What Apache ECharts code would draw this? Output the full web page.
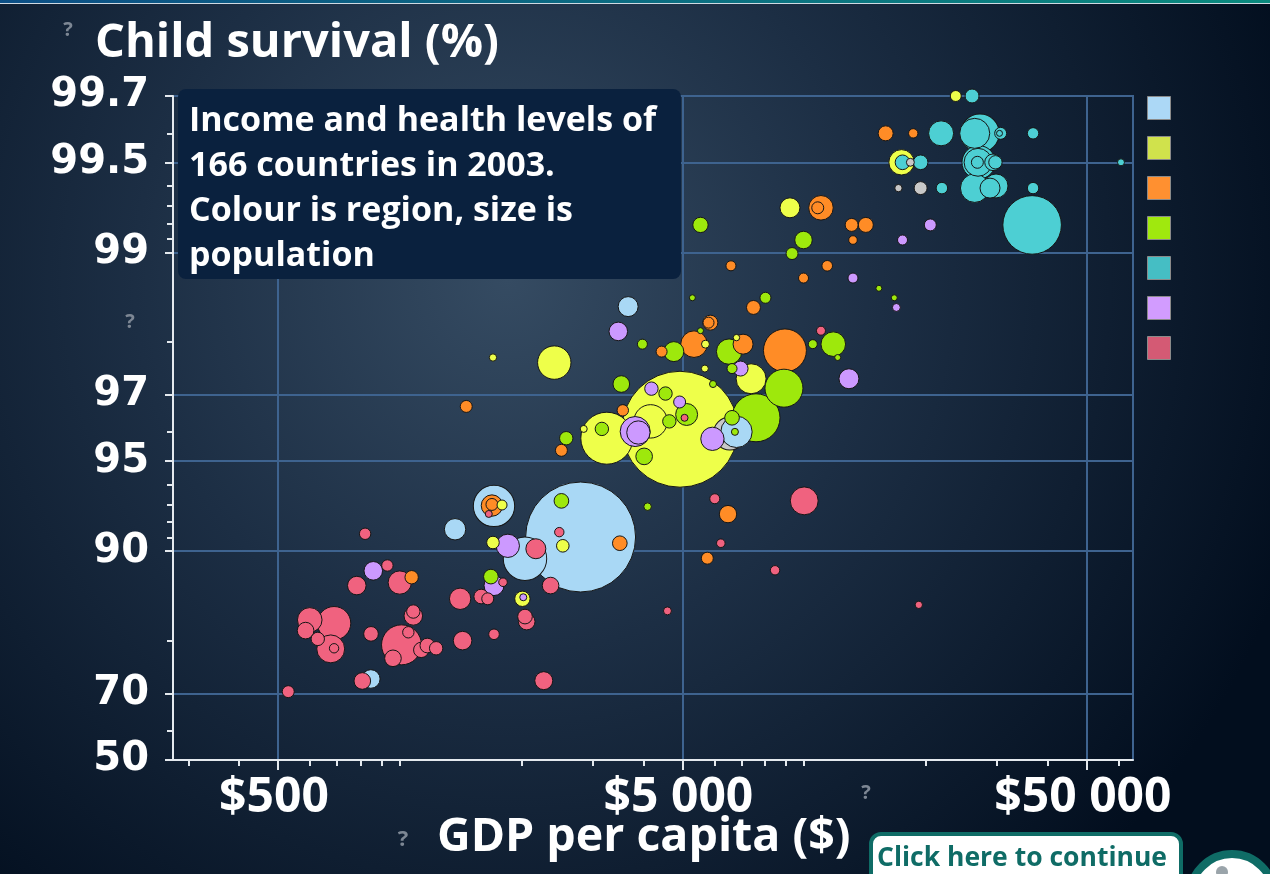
<!DOCTYPE html>
<html>
<head>
<meta charset="utf-8">
<script src="https://cdn.jsdelivr.net/npm/echarts@6/dist/echarts.min.js"></script>
<style>
html,body{margin:0;padding:0;background:#06121f;}
#chart{width:1270px;height:874px;}
</style>
</head>
<body>
<div id="chart"></div>
<script>
// ---------------- DATA ----------------
const regionNames = ['Region A','Region B','Region C','Region D','Region E','Region F','Region G'];

// GDP per capita ($)
const gdp = [
23700,26000,15900,18600,21800,27200,26400,30600,30400,36800,
17400,17500,18300,19400,27000,26900,26800,29300,29700,60700,
17100,19400,21900,26400,29800,28800,36800,36600,9220,11000,
10800,5540,13100,14200,20500,9960,13200,17500,9330,6590,
11400,9960,13200,15300,5290,8020,16700,7490,16900,5860,
5800,11000,5540,5340,4760,4440,5700,6520,7060,6800,
8960,10500,11800,12100,5680,6630,6960,7390,8910,12900,
5950,4540,4920,5120,5060,4640,7600,6550,6800,6630,
6740,5930,3470,3980,3530,4190,3560,4170,3250,2850,
3160,3820,3890,4020,4930,3670,1700,2410,1460,2580,
2510,1710,1690,1690,1790,1660,2510,4100,1370,821,
2800,2480,2530,3500,1700,1850,2040,2170,932,860,
1070,1000,783,1680,1710,1800,2360,1410,1590,1650,
2010,2020,1080,1080,2040,2060,599,688,585,849,
627,675,688,1010,1050,962,1130,1170,1230,1430,
1710,2270,848,808,530,6010,6480,10000,6220,5760,
8470,4590,19200
];

// Child survival (%)
const survival = [
99.70,99.70,99.60,99.60,99.60,99.60,99.60,99.60,99.60,99.60,
99.50,99.50,99.50,99.50,99.50,99.50,99.50,99.50,99.50,99.50,
99.39,99.39,99.39,99.39,99.40,99.39,99.39,99.19,99.29,99.29,
99.29,99.19,99.19,99.19,99.19,99.09,99.09,99.09,98.99,98.89,
98.89,98.78,98.78,98.68,98.58,98.58,98.58,98.47,98.47,98.28,
98.28,98.17,98.17,97.97,97.85,97.85,97.97,97.85,97.97,98.07,
97.87,97.97,97.97,97.75,97.55,97.55,97.55,97.35,97.15,97.35,
97.24,97.03,96.83,96.51,96.42,96.32,96.42,95.96,96.01,96.42,
96.01,95.79,98.16,97.97,97.24,97.14,96.62,96.32,95.81,96.10,
96.10,96.02,95.99,95.18,96.09,98.48,97.75,97.66,96.72,95.81,
95.40,92.94,92.96,93.02,92.99,92.49,93.21,92.90,91.55,91.25,
91.03,91.36,90.40,90.59,90.64,90.40,89.39,90.18,88.83,88.36,
87.77,87.26,86.96,87.83,86.96,87.29,86.96,85.56,85.81,85.56,
85.56,85.73,83.53,84.07,83.44,82.79,83.01,82.57,81.55,81.08,
80.33,78.76,78.86,79.41,81.31,77.16,78.59,79.30,78.86,80.07,
81.02,72.87,73.22,72.80,70.47,93.32,92.48,93.21,90.59,89.44,
88.41,84.15,84.87
];

// Population (millions)
const population = [
11.8,19,22,8.6,61,145,88,14,3.5,12.7,
63,21,6.2,21,109,76,14,27,17.5,4.8,
5.3,16.5,13,80,56,39,12.7,335,39,59,
14,23,16.5,22,14,30,7.2,9.8,14,9.8,
11,9.8,9.8,3.5,3.5,11.8,3.5,19,6.2,22,
11.8,7.9,3.5,69,39,11.8,6.2,63,39,4,
180,7.9,59,3.5,4.8,9.8,22,88,141,39,
4.8,17.5,14,47,4.8,17.5,225,106,96,21,
4.8,53,33.7,9.8,27,17.5,12.7,109,264,4.8,
17.5,88,53,27,1312,39,5.3,109,14,17.5,
14,167,44.6,14,9.8,4.8,21,5.6,44.6,12.7,
1180,8.6,15.5,21,15.5,53,184,39,12.7,33.7,
17.5,53,33.7,21,39,7.2,27,44.6,21,14,
23,4.8,33.7,17.5,21,27,59,109,27,21,
17.5,76,8.6,156,12.7,27,23,21,17.5,33.7,
11,31.6,33.7,27,14,9.8,29.5,76,7.2,14,
8.6,6.2,5.3
];

// Region index (0-6 = legend regions, 7 = unclassified)
const region = [
1,4,2,2,4,4,4,4,4,4,
1,4,7,4,4,4,4,4,4,4,
7,7,4,4,4,4,4,4,1,2,
2,3,2,2,5,3,2,5,3,2,
2,2,5,3,3,3,3,2,5,2,
2,6,3,2,3,2,1,3,2,1,
2,3,3,3,1,3,5,1,3,5,
3,3,5,3,6,3,3,7,0,3,
3,5,5,3,3,5,2,1,1,1,
3,5,5,3,1,0,1,1,2,3,
2,0,2,2,1,6,3,3,0,6,
0,6,1,2,1,5,0,6,6,5,
2,6,6,3,5,6,6,6,6,6,
1,5,6,6,6,6,6,6,6,6,
6,6,6,6,6,6,6,6,6,6,
6,6,0,6,6,6,2,6,6,2,
6,6,6
];

// Axis range and ticks
const gdpRange = [275, 65000];
const survivalRange = [50, 99.7];
const xMajorTicks = [500, 5000, 50000];
const xMajorLabels = ['$500', '$5 000', '$50 000'];
const xMinorTicks = [300,400,600,700,800,900,1000,2000,3000,4000,6000,7000,8000,9000,10000,20000,30000,40000,60000];
const yMajorTicks = [50, 70, 90, 95, 97, 99, 99.5, 99.7];
const yMajorLabels = ['50', '70', '90', '95', '97', '99', '99.5', '99.7'];
const yMinorTicks = [60, 80, 91, 92, 93, 94, 96, 98, 99.1, 99.2, 99.3, 99.4, 99.6];

// ---------------- STYLE ----------------
const bubbleColors = ['#a9d8f5','#eeff4a','#ff8c26','#9ee80c','#4dcfd3','#cc99ff','#f0627f','#c8c8c8'];
const legendColors = ['#acd8f6','#d0e24c','#ff9030','#a0e80e','#45bec4','#d29cff','#d45a74'];
const gridColor = '#3e638f';
const axisColor = '#e4e9ee';

// ---------------- TRANSFORMS ----------------
const toX = g => Math.log10(g);
const toY = s => -Math.log10(100 - s);
const near = (a, b) => Math.abs(a - b) < 1e-6;
const xLabelFor = v => { const i = xMajorTicks.findIndex(t => near(toX(t), v)); return i >= 0 ? xMajorLabels[i] : ''; };
const yLabelFor = v => { const i = yMajorTicks.findIndex(t => near(toY(t), v)); return i >= 0 ? yMajorLabels[i] : ''; };

const points = gdp.map((g, i) => ({ value: [toX(g), toY(survival[i]), population[i], region[i]] }))
  .sort((a, b) => b.value[2] - a.value[2]);

const xBase = { type: 'value', min: toX(gdpRange[0]), max: toX(gdpRange[1]), position: 'bottom' };
const yBase = { type: 'value', min: toY(survivalRange[0]), max: toY(survivalRange[1]), position: 'left' };

const chart = echarts.init(document.getElementById('chart'), null, { renderer: 'canvas' });

const option = {
  animation: false,
  backgroundColor: {
    type: 'radial', x: 0.40, y: 0.32, r: 0.95,
    colorStops: [
      { offset: 0, color: '#354b62' },
      { offset: 0.45, color: '#1c2e44' },
      { offset: 1, color: '#020e1e' }
    ]
  },
  grid: { left: 173, right: 137, top: 96, bottom: 114, show: true, borderColor: gridColor, borderWidth: 2, backgroundColor: 'transparent' },
  xAxis: [
    Object.assign({}, xBase, {
      axisLine: { show: true, onZero: false, lineStyle: { color: axisColor, width: 2 } },
      axisTick: { show: true, customValues: xMinorTicks.map(toX), length: 6, lineStyle: { color: axisColor, width: 2 } },
      axisLabel: { show: false },
      splitLine: { show: false }
    }),
    Object.assign({}, xBase, {
      axisLine: { show: false, onZero: false },
      axisTick: { show: true, customValues: xMajorTicks.map(toX), length: 10, lineStyle: { color: axisColor, width: 2 } },
      axisLabel: {
        show: true, customValues: xMajorTicks.map(toX), formatter: xLabelFor, margin: 14,
        color: '#ffffff', fontFamily: 'Open Sans', fontWeight: 'bold', fontSize: 48, padding: [0, 8, 0, 0]
      },
      splitLine: { show: true, lineStyle: { color: gridColor, width: 2 } }
    })
  ],
  yAxis: [
    Object.assign({}, yBase, {
      axisLine: { show: true, onZero: false, lineStyle: { color: axisColor, width: 2 } },
      axisTick: { show: true, customValues: yMinorTicks.map(toY), length: 6, lineStyle: { color: axisColor, width: 2 } },
      axisLabel: { show: false },
      splitLine: { show: false }
    }),
    Object.assign({}, yBase, {
      axisLine: { show: false, onZero: false },
      axisTick: { show: true, customValues: yMajorTicks.map(toY), length: 8, lineStyle: { color: axisColor, width: 2 } },
      axisLabel: {
        show: true, customValues: yMajorTicks.map(toY), formatter: yLabelFor, margin: 24,
        color: '#ffffff', fontFamily: 'DejaVu Sans', fontWeight: 'bold', fontSize: 40
      },
      splitLine: { show: true, lineStyle: { color: gridColor, width: 2 } }
    })
  ],
  legend: {
    orient: 'vertical', left: 1147, top: 96, padding: 0, itemWidth: 23, itemHeight: 23, itemGap: 16,
    icon: 'rect', selectedMode: false, formatter: () => '', textStyle: { fontSize: 10 },
    itemStyle: { borderColor: '#8a8a8a', borderWidth: 1, opacity: 1 },
    data: regionNames
  },
  series: [
    {
      type: 'scatter', name: 'Countries', data: points, clip: false, z: 5,
      symbolSize: v => 3.2 * Math.sqrt(v[2]),
      itemStyle: { color: p => bubbleColors[p.value[3]], borderColor: '#161616', borderWidth: 1, opacity: 1 },
      emphasis: { disabled: true }
    }
  ].concat(regionNames.map((n, i) => ({
    type: 'scatter', name: n, data: [], itemStyle: { color: legendColors[i], opacity: 1 }
  }))),
  graphic: [
    { type: 'rect', shape: { x: 0, y: 0, width: 1270, height: 3 },
      style: { fill: { type: 'linear', x: 0, y: 0, x2: 1, y2: 0, colorStops: [{ offset: 0, color: '#0c4f86' }, { offset: 1, color: '#0a8a7e' }] } }, silent: true },
    { type: 'rect', shape: { x: 0, y: 3, width: 1270, height: 1 }, style: { fill: '#cfd9e2' }, silent: true },
    { type: 'text', x: 95, y: 44, style: { text: 'Child survival (%)', fill: '#ffffff', font: 'bold 47px "Open Sans"', align: 'left', verticalAlign: 'middle' } },
    { type: 'text', x: 437, y: 838, style: { text: 'GDP per capita ($)', fill: '#ffffff', font: 'bold 46.5px "Open Sans"', align: 'left', verticalAlign: 'middle' } },
    { type: 'rect', shape: { x: 178, y: 89, width: 503, height: 190, r: 8 }, style: { fill: '#0a213e' }, z: 10 },
    { type: 'text', x: 189, y: 99, z: 11, style: { text: 'Income and health levels of\n166 countries in 2003.\nColour is region, size is\npopulation', fill: '#ffffff', font: 'bold 34px "Open Sans"', lineHeight: 45, align: 'left', verticalAlign: 'top' } },
    { type: 'text', x: 68, y: 30, style: { text: '?', fill: '#7d8794', font: 'bold 20px "Open Sans"', align: 'center', verticalAlign: 'middle' } },
    { type: 'text', x: 130, y: 322, style: { text: '?', fill: '#7d8794', font: 'bold 20px "Open Sans"', align: 'center', verticalAlign: 'middle' } },
    { type: 'text', x: 866, y: 793, style: { text: '?', fill: '#7d8794', font: 'bold 20px "Open Sans"', align: 'center', verticalAlign: 'middle' } },
    { type: 'text', x: 403, y: 840, style: { text: '?', fill: '#7d8794', font: 'bold 22px "Open Sans"', align: 'center', verticalAlign: 'middle' } },
    { type: 'rect', shape: { x: 871, y: 834, width: 310, height: 70, r: 10 }, style: { fill: '#ffffff', stroke: '#0f6c66', lineWidth: 4 } },
    { type: 'text', x: 877, y: 858, style: { text: 'Click here to continue', fill: '#0f6c66', font: 'bold 26.5px "Open Sans"', align: 'left', verticalAlign: 'middle' } },
    { type: 'circle', shape: { cx: 1232, cy: 896, r: 42 }, style: { fill: '#ffffff', stroke: '#0f6c66', lineWidth: 8 } },
    { type: 'circle', shape: { cx: 1222, cy: 872, r: 6 }, style: { fill: '#9aa4aa' } }
  ]
};
chart.setOption(option);
</script>
</body>
</html>
